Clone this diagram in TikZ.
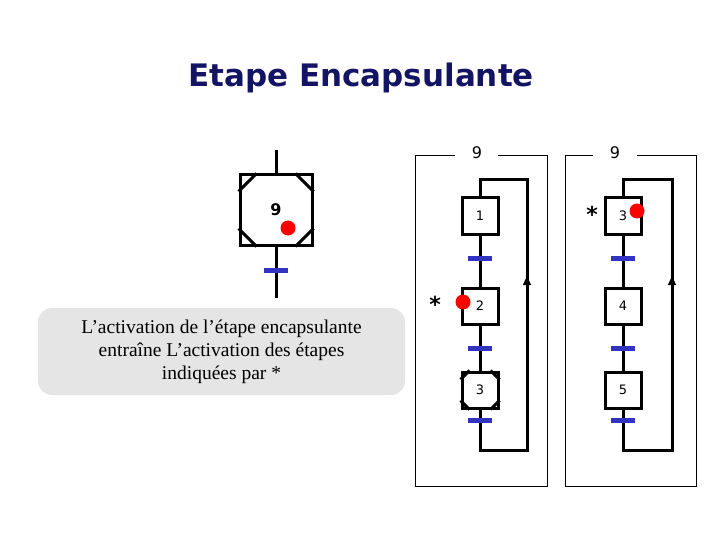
\documentclass[tikz,border=0pt]{standalone}
\usepackage{fontspec}
\usetikzlibrary{arrows.meta}
\setmainfont{Liberation Serif}
\setsansfont{DejaVu Sans}
\begin{document}
\begin{tikzpicture}[x=1pt,y=-1pt,
  stepbox/.style={draw,line width=3pt,minimum width=36pt,minimum height=36pt,inner sep=0pt,font=\sffamily\fontsize{13}{13}\selectfont},
  trans/.style={draw=blue!70!black!80,line width=5pt},
  wire/.style={line width=3pt},
  dot/.style={circle,fill=red,inner sep=0pt,minimum size=15pt},
  frame/.style={draw,line width=0.8pt},
  corner/.style={line width=3pt}]
\useasboundingbox (0,0) rectangle (720,540);
\definecolor{navy}{RGB}{20,20,100}
\node (title) at (361,78) {\sffamily\bfseries\color{navy}\fontsize{31}{33}\selectfont Etape Encapsulante};
% left macro step
\coordinate (lt) at (276,150); \coordinate (lb) at (276,298);
\draw[wire] (lt) -- (lb);
\node[stepbox,fill=white,minimum width=72pt,minimum height=70pt,font=\sffamily\bfseries\fontsize{16}{16}\selectfont] (s9) at (276,210) {9};
\draw[corner] ([xshift=18pt]s9.north west)--([yshift=-18pt]s9.north west)
  ([xshift=-18pt]s9.north east)--([yshift=-18pt]s9.north east)
  ([xshift=18pt]s9.south west)--([yshift=18pt]s9.south west)
  ([xshift=-18pt]s9.south east)--([yshift=18pt]s9.south east);
\node[dot] (d9) at (288,228) {};
\coordinate (t9a) at (264,270); \coordinate (t9b) at (288,270);
\draw[trans] (t9a) -- (t9b);
\node[fill=black!10,rounded corners=14pt,minimum width=367pt,minimum height=87pt,align=center,font=\fontsize{19.5}{23}\selectfont] (note) at (221.5,351.5)
 {L’activation de l’étape encapsulante\\entraîne L’activation des étapes\\indiquées par *};
% frames
\foreach \n/\xa/\xb/\ga/\gb in {f1/415/547/455/498, f2/565/696/593/637}{
  \draw[frame] (\ga,155) -| (\xa,486) -| (\xb,155) -- (\gb,155);
}
\node[font=\sffamily\fontsize{16}{16}\selectfont] (n1) at (477,153) {9};
\node[font=\sffamily\fontsize{16}{16}\selectfont] (n2) at (615,153) {9};
% chart 1
\coordinate (c1top) at (480,180); \coordinate (c1tr) at (527,180);
\coordinate (c1bot) at (480,450); \coordinate (c1br) at (527,450);
\coordinate (c1ar) at (527,276);
\draw[wire] (c1ar) -- (c1tr) -- (c1top) -- (c1bot) -- (c1br) -- (c1ar);
\draw[-{Triangle[length=9pt,width=8pt]},line width=1pt] (527,290) -- (c1ar);
\node[stepbox,fill=white] (a1) at (480,216) {1};
\node[stepbox,fill=white] (a2) at (480,306) {2};
\node[stepbox,fill=white] (a3) at (480,390) {3};
\draw[corner] ([xshift=9pt]a3.north west)--([yshift=-9pt]a3.north west)
  ([xshift=-9pt]a3.north east)--([yshift=-9pt]a3.north east)
  ([xshift=9pt]a3.south west)--([yshift=9pt]a3.south west)
  ([xshift=-9pt]a3.south east)--([yshift=9pt]a3.south east);
\foreach \y in {258,348,420}{\draw[trans] (468,\y) -- (492,\y);}
\node[font=\sffamily\bfseries\fontsize{22}{22}\selectfont] (st1) at (435,304) {*};
\node[dot] (d2) at (463,302) {};
% chart 2
\coordinate (c2top) at (623,180); \coordinate (c2tr) at (672,180);
\coordinate (c2bot) at (623,450); \coordinate (c2br) at (672,450);
\coordinate (c2ar) at (672,276);
\draw[wire] (c2ar) -- (c2tr) -- (c2top) -- (c2bot) -- (c2br) -- (c2ar);
\draw[-{Triangle[length=9pt,width=8pt]},line width=1pt] (672,290) -- (c2ar);
\node[stepbox,fill=white] (b3) at (623,216) {3};
\node[stepbox,fill=white] (b4) at (623,306) {4};
\node[stepbox,fill=white] (b5) at (623,390) {5};
\foreach \y in {258,348,420}{\draw[trans] (611,\y) -- (635,\y);}
\node[font=\sffamily\bfseries\fontsize{22}{22}\selectfont] (st2) at (592,214) {*};
\node[dot] (d3) at (637,211) {};
\end{tikzpicture}
\end{document}
